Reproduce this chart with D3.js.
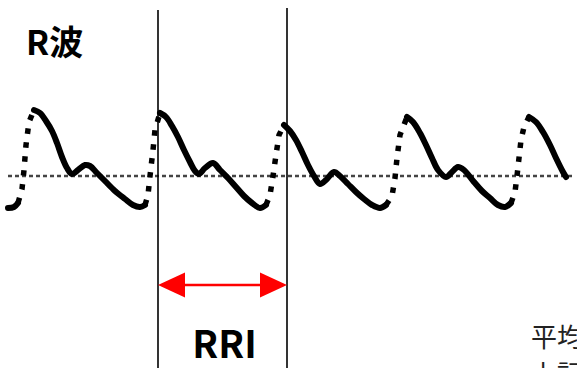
<!DOCTYPE html>
<html><head><meta charset="utf-8">
<script src="https://cdn.jsdelivr.net/npm/d3@7"></script>
<style>
html,body{margin:0;padding:0;background:#fff;}
svg{display:block;}
</style></head>
<body>
<svg id="c" width="577" height="368"></svg>
<script>
// ECG trace: time (ms) and amplitude (µV, relative to baseline)
const waveTime = [0,48,80,112,128,144,168,208,256,304,352,392,432,472,512,560,616,656,712,776,856,936,1000,1056,1096,
  1120,1136,1160,1176,1216,1264,1312,1360,1408,1456,1496,1528,1576,1640,1696,1760,1824,1888,1952,2016,2064,
  2096,2120,2144,2168,2208,2256,2304,2352,2400,2448,2496,2544,2608,2656,2720,2784,2848,2912,2976,3024,
  3072,3096,3112,3136,3192,3240,3296,3344,3392,3440,3504,3552,3600,3648,3728,3792,3856,3920,3976,4024,
  4056,4072,4088,4104,4128,4168,4224,4280,4336,4384,4440,4464];
const waveAmp = [-320,-310,-270,-130,60,310,540,660,630,550,450,330,190,80,20,60,110,100,30,-50,-150,-230,-290,-310,-290,
  -190,0,260,460,630,590,500,390,260,140,50,20,80,130,60,-20,-110,-200,-270,-320,-290,
  -190,0,210,410,510,450,360,240,110,0,-80,-40,40,0,-80,-160,-230,-290,-320,-290,
  -200,-20,180,410,590,540,430,310,180,60,-10,40,90,60,-60,-150,-220,-290,-310,-270,
  -160,0,180,360,490,590,540,440,310,180,40,-10];
// R-peak markers (ms) delimiting one RR interval
const rMarks = [1200, 2232];
const labels = {wave: "R波", interval: "RRI", note: ["平均", "上記"]};

const svg = d3.select("#c");
const x = d3.scaleLinear().domain([0, 4512]).range([8, 572]);
const y = d3.scaleLinear().domain([-400, 800]).range([216, 96]);

// baseline
svg.append("line")
  .attr("x1", x(0)).attr("x2", x(4512)).attr("y1", y(0)).attr("y2", y(0))
  .attr("stroke", "#444").attr("stroke-width", 2.5).attr("stroke-dasharray", "4,3");

// build runs: steep upstrokes dotted, rest solid
const pts = waveTime.map((t, i) => ({t, a: waveAmp[i]}));
const runs = [];
for (let i = 0; i < pts.length - 1; i++) {
  const up = (pts[i+1].a - pts[i].a) / (pts[i+1].t - pts[i].t) > 1.5;
  const last = runs[runs.length - 1];
  if (last && last.up === up) last.p.push(pts[i+1]);
  else runs.push({up, p: [pts[i], pts[i+1]]});
}
const line = d3.line().x(d => x(d.t)).y(d => y(d.a)).curve(d3.curveCatmullRom.alpha(0.5));
const lineLin = d3.line().x(d => x(d.t)).y(d => y(d.a));
runs.forEach(r => {
  svg.append("path")
    .attr("d", r.up ? lineLin(r.p) : line(r.p))
    .attr("fill", "none")
    .attr("stroke", "#000")
    .attr("stroke-width", r.up ? 5.5 : 6)
    .attr("stroke-linejoin", "round")
    .attr("stroke-linecap", r.up ? "butt" : "round")
    .attr("stroke-dasharray", r.up ? "5.5,8.5" : null);
});

// vertical markers
svg.selectAll("line.mark").data(rMarks).join("line").attr("class", "mark")
  .attr("x1", d => x(d)).attr("x2", d => x(d))
  .attr("y1", (d, i) => i === 0 ? 10 : 8).attr("y2", 368)
  .attr("stroke", "#000").attr("stroke-width", 1.6);

// red double arrow
const ay = 285, head = 27, hh = 12.5;
const xa = x(rMarks[0]), xb = x(rMarks[1]);
svg.append("line").attr("x1", xa + head - 2).attr("x2", xb - head + 2).attr("y1", ay).attr("y2", ay)
  .attr("stroke", "#ff0000").attr("stroke-width", 2.5);
svg.append("path").attr("d", `M${xa},${ay}L${xa + head},${ay - hh}L${xa + head},${ay + hh}Z`).attr("fill", "#ff0000");
svg.append("path").attr("d", `M${xb},${ay}L${xb - head},${ay - hh}L${xb - head},${ay + hh}Z`).attr("fill", "#ff0000");

// texts
const font = "'Noto Sans CJK JP', 'Noto Sans', sans-serif";
svg.append("text").text(labels.wave).attr("x", 26).attr("y", 55)
  .attr("font-family", font).attr("font-weight", 700).attr("font-size", 34).attr("fill", "#000");
svg.append("text").text(labels.interval).attr("x", (xa + xb) / 2 + 2).attr("y", 358)
  .attr("text-anchor", "middle")
  .attr("font-family", font).attr("font-weight", 700).attr("font-size", 38).attr("fill", "#000");
labels.note.forEach((s, i) => {
  svg.append("text").text(s).attr("x", 531).attr("y", 347 + i * 37)
    .attr("font-family", font).attr("font-weight", 400).attr("font-size", 26).attr("fill", "#222");
});
</script>
</body></html>
